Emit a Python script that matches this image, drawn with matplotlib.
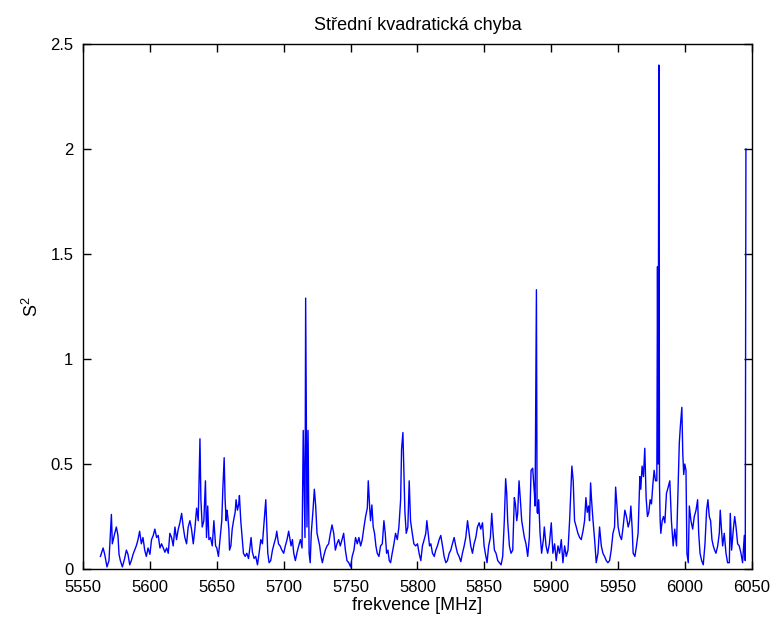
import matplotlib
matplotlib.use("Agg")
import matplotlib.pyplot as plt

freq = [
    5563.0, 5565.0, 5566.2, 5567.9, 5569.4, 5571.2, 5571.9, 5573.7, 5574.9, 5576.1,
    5576.9, 5577.9, 5579.4, 5581.1, 5582.4, 5583.6, 5584.9, 5586.1, 5587.4, 5589.8,
    5591.1, 5592.3, 5593.6, 5594.8, 5596.1, 5597.3, 5598.6,
    5600.0, 5601.2, 5602.5, 5603.7, 5605.0, 5606.2, 5607.5, 5608.7, 5610.0, 5611.2,
    5612.5, 5613.7, 5614.9, 5616.2, 5617.4, 5618.7, 5619.9, 5621.2, 5622.4, 5623.7,
    5624.9, 5626.1, 5627.4, 5628.6, 5629.9, 5631.1, 5632.4, 5633.6, 5634.9, 5636.1,
    5637.4, 5638.1, 5639.1, 5640.3, 5641.5, 5642.3, 5643.2, 5644.1, 5645.3, 5646.6,
    5647.8, 5649.1,
    5650.0, 5651.2, 5652.5, 5653.7, 5654.5, 5655.5, 5656.2, 5657.0, 5657.5, 5658.2,
    5659.0, 5659.5, 5660.5, 5661.5, 5662.5, 5663.7, 5664.4, 5665.4, 5666.4, 5666.9,
    5667.9, 5668.9, 5669.9, 5671.2, 5672.4, 5673.7, 5674.9, 5675.6, 5676.6, 5677.9,
    5679.1, 5680.4, 5681.6, 5682.9, 5684.1, 5685.4, 5686.6, 5687.4, 5688.1, 5689.1,
    5690.3, 5691.6, 5692.8, 5694.1, 5694.8, 5696.1, 5697.3, 5698.6,
    5700.0, 5701.2, 5702.5, 5703.7, 5704.5, 5705.5, 5706.5, 5707.5, 5708.7, 5710.0,
    5711.2, 5712.5, 5713.7, 5714.6, 5715.9, 5716.4, 5716.9, 5717.4, 5718.2, 5719.0,
    5719.8, 5720.6, 5721.9, 5722.9, 5723.9, 5724.9, 5725.9, 5726.9, 5727.9, 5728.9,
    5729.9, 5731.1, 5732.4, 5733.6, 5734.9, 5736.1, 5737.4, 5738.6, 5739.8, 5741.1,
    5742.3, 5743.6, 5744.8, 5746.1, 5747.3, 5748.6,
    5750.0, 5751.2, 5752.5, 5753.7, 5755.0, 5756.2, 5757.5, 5758.7, 5760.0, 5761.2,
    5762.5, 5763.2, 5764.2, 5764.9, 5765.9, 5766.9, 5767.9, 5768.9, 5769.9, 5771.2,
    5772.4, 5773.7, 5774.9, 5775.9, 5776.9, 5777.9, 5778.9, 5779.9, 5781.1, 5782.4,
    5783.6, 5784.9, 5786.1, 5787.4, 5788.1, 5789.1, 5789.8, 5790.6, 5791.6, 5792.8,
    5793.8, 5794.8, 5796.1, 5797.3, 5798.6,
    5800.0, 5801.2, 5802.5, 5803.7, 5805.0, 5806.2, 5807.0, 5808.0, 5809.0, 5810.0,
    5811.2, 5812.5, 5813.7, 5814.9, 5816.2, 5817.4, 5818.7, 5819.9, 5821.2, 5822.4,
    5823.7, 5824.9, 5826.1, 5827.4, 5828.6, 5829.9, 5831.1, 5832.4, 5833.6, 5834.9,
    5836.1, 5837.4, 5838.6, 5839.8, 5841.1, 5842.3, 5843.6, 5844.8, 5846.1, 5847.3,
    5848.6, 5849.8,
    5850.7, 5852.0, 5853.2, 5854.5, 5855.5, 5856.5, 5857.5, 5858.7, 5860.0, 5861.2,
    5862.5, 5863.7, 5864.9, 5865.9, 5866.7, 5867.4, 5868.7, 5869.9, 5871.2, 5872.4,
    5873.2, 5874.2, 5874.9, 5875.9, 5876.9, 5877.9, 5878.9, 5879.9, 5881.1, 5882.4,
    5883.6, 5884.9, 5886.1, 5887.4, 5887.9, 5888.4, 5888.9, 5889.4, 5889.9, 5890.6,
    5891.6, 5892.8, 5894.1, 5894.8, 5896.1, 5897.3, 5898.6,
    5900.0, 5901.2, 5902.5, 5903.7, 5905.0, 5906.2, 5907.5, 5908.7, 5910.0, 5911.2,
    5912.5, 5913.7, 5915.4, 5916.4, 5917.4, 5918.7, 5919.9, 5921.2, 5922.4, 5923.7,
    5924.9, 5925.9, 5926.9, 5927.9, 5928.6, 5929.4, 5930.1, 5931.1, 5932.4, 5933.6,
    5934.9, 5936.1, 5937.4, 5938.6, 5939.8, 5941.1, 5942.3, 5943.6, 5944.8, 5946.1,
    5947.3, 5948.1, 5949.1,
    5950.0, 5951.2, 5952.5, 5953.7, 5955.0, 5956.2, 5957.5, 5958.7, 5959.5, 5960.5,
    5961.2, 5962.5, 5963.7, 5964.9, 5966.2, 5966.9, 5967.9, 5968.9, 5969.9, 5970.9,
    5971.9, 5972.9, 5973.9, 5974.9, 5975.9, 5976.9, 5977.9, 5978.9, 5979.4, 5979.9,
    5980.4, 5980.9, 5981.4, 5981.9, 5982.9, 5983.9, 5984.9, 5986.1, 5987.4, 5988.6,
    5989.8, 5991.1, 5992.3, 5993.6, 5994.8, 5995.7, 5996.5, 5997.6, 5998.3, 5999.0,
    5999.8,
    6000.7, 6001.4, 6002.4, 6003.2, 6004.4, 6005.7, 6006.9, 6008.2, 6009.4, 6010.2,
    6011.2, 6012.4, 6013.6, 6014.9, 6016.1, 6017.1, 6018.1, 6019.1, 6020.1, 6021.1,
    6022.1, 6023.1, 6024.4, 6025.6, 6026.3, 6027.1, 6028.1, 6029.3, 6030.6, 6031.8,
    6033.1, 6033.8, 6034.8, 6036.1, 6037.1, 6038.1, 6039.3, 6040.5, 6041.8, 6043.0,
    6044.3, 6045.0, 6045.5,
]

s2 = [
    0.06, 0.10, 0.07, 0.01, 0.04, 0.26, 0.12, 0.17, 0.20, 0.16,
    0.07, 0.04, 0.01, 0.05, 0.09, 0.07, 0.02, 0.04, 0.07, 0.11,
    0.14, 0.18, 0.12, 0.15, 0.09, 0.06, 0.10,
    0.07, 0.14, 0.16, 0.19, 0.15, 0.16, 0.10, 0.12, 0.10, 0.08,
    0.10, 0.075, 0.17, 0.15, 0.11, 0.20, 0.14, 0.19, 0.22, 0.265,
    0.20, 0.15, 0.12, 0.20, 0.23, 0.19, 0.12, 0.19, 0.29, 0.23,
    0.62, 0.33, 0.20, 0.23, 0.42, 0.15, 0.30, 0.14, 0.15, 0.11,
    0.23, 0.11,
    0.10, 0.06, 0.15, 0.23, 0.38, 0.53, 0.33, 0.23, 0.28, 0.25,
    0.19, 0.09, 0.11, 0.19, 0.23, 0.27, 0.33, 0.28, 0.31, 0.35,
    0.23, 0.15, 0.075, 0.06, 0.075, 0.05, 0.11, 0.15, 0.08, 0.05,
    0.06, 0.02, 0.075, 0.14, 0.12, 0.23, 0.33, 0.19, 0.075, 0.03,
    0.04, 0.09, 0.12, 0.15, 0.18, 0.12, 0.11, 0.09,
    0.075, 0.11, 0.14, 0.18, 0.15, 0.11, 0.14, 0.075, 0.04, 0.08,
    0.11, 0.14, 0.10, 0.66, 0.15, 1.29, 0.71, 0.20, 0.66, 0.075,
    0.03, 0.17, 0.28, 0.38, 0.30, 0.17, 0.14, 0.11, 0.06, 0.03,
    0.06, 0.09, 0.11, 0.12, 0.17, 0.21, 0.17, 0.09, 0.12, 0.14,
    0.11, 0.14, 0.17, 0.09, 0.04, 0.03,
    0.01, 0.06, 0.09, 0.15, 0.12, 0.15, 0.11, 0.14, 0.20, 0.25,
    0.29, 0.42, 0.30, 0.23, 0.305, 0.20, 0.17, 0.11, 0.075, 0.06,
    0.11, 0.12, 0.23, 0.17, 0.075, 0.09, 0.04, 0.03, 0.075, 0.12,
    0.17, 0.14, 0.20, 0.33, 0.57, 0.65, 0.47, 0.27, 0.17, 0.20,
    0.42, 0.23, 0.17, 0.12, 0.11,
    0.12, 0.075, 0.04, 0.11, 0.14, 0.17, 0.23, 0.17, 0.11, 0.12,
    0.075, 0.06, 0.09, 0.11, 0.14, 0.16, 0.11, 0.06, 0.03, 0.04,
    0.075, 0.09, 0.12, 0.15, 0.11, 0.075, 0.06, 0.035, 0.075, 0.11,
    0.15, 0.23, 0.17, 0.11, 0.075, 0.12, 0.15, 0.20, 0.22, 0.19,
    0.22, 0.11,
    0.075, 0.03, 0.11, 0.15, 0.265, 0.17, 0.09, 0.075, 0.04, 0.03,
    0.02, 0.06, 0.23, 0.43, 0.36, 0.23, 0.11, 0.075, 0.09, 0.34,
    0.31, 0.23, 0.265, 0.42, 0.33, 0.23, 0.19, 0.15, 0.12, 0.06,
    0.15, 0.47, 0.48, 0.36, 0.30, 0.80, 1.33, 0.27, 0.265, 0.33,
    0.17, 0.075, 0.14, 0.20, 0.11, 0.075, 0.12,
    0.22, 0.075, 0.12, 0.04, 0.11, 0.075, 0.14, 0.03, 0.11, 0.06,
    0.09, 0.23, 0.49, 0.42, 0.23, 0.20, 0.17, 0.15, 0.14, 0.18,
    0.23, 0.34, 0.27, 0.30, 0.23, 0.41, 0.33, 0.24, 0.14, 0.03,
    0.075, 0.20, 0.11, 0.075, 0.06, 0.04, 0.03, 0.04, 0.09, 0.17,
    0.20, 0.39, 0.30,
    0.20, 0.16, 0.14, 0.20, 0.28, 0.25, 0.20, 0.23, 0.30, 0.19,
    0.075, 0.06, 0.11, 0.17, 0.44, 0.38, 0.49, 0.44, 0.575, 0.34,
    0.25, 0.27, 0.33, 0.31, 0.40, 0.47, 0.42, 0.42, 1.44, 0.50,
    2.40, 0.40, 0.23, 0.17, 0.23, 0.25, 0.22, 0.36, 0.39, 0.42,
    0.23, 0.11, 0.19, 0.11, 0.39, 0.60, 0.68, 0.77, 0.55, 0.45,
    0.50,
    0.47, 0.075, 0.03, 0.30, 0.23, 0.19, 0.25, 0.28, 0.33, 0.17,
    0.075, 0.04, 0.02, 0.12, 0.28, 0.33, 0.25, 0.23, 0.14, 0.11,
    0.09, 0.075, 0.11, 0.17, 0.28, 0.20, 0.11, 0.17, 0.075, 0.03,
    0.03, 0.265, 0.09, 0.19, 0.25, 0.20, 0.12, 0.11, 0.075, 0.03,
    0.16, 0.04, 2.00,
]

x_ticks = [5550, 5600, 5650, 5700, 5750, 5800, 5850, 5900, 5950, 6000, 6050]
y_ticks = [0, 0.5, 1, 1.5, 2, 2.5]
y_tick_labels = ["0", "0.5", "1", "1.5", "2", "2.5"]

plt.rcParams['font.family'] = ['Liberation Sans', 'DejaVu Sans']
plt.rcParams['mathtext.default'] = 'regular'

fig = plt.figure(figsize=(7.76, 6.22), dpi=100)
ax = fig.add_axes([0.107, 0.0852, 0.862, 0.844])
ax.plot(freq, s2, color=(0, 0, 1), linewidth=1.0)

ax.set_xlim(5550, 6050)
ax.set_ylim(0, 2.5)
ax.set_xticks(x_ticks)
ax.set_yticks(y_ticks)
ax.set_yticklabels(y_tick_labels)
ax.tick_params(direction='in', top=True, right=True, length=6, width=1,
               labelsize=12, colors='black')
ax.tick_params(axis='x', pad=8)
ax.tick_params(axis='y', pad=7)
for sp in ax.spines.values():
    sp.set_linewidth(1.0)
    sp.set_color('black')

ax.set_title("Střední kvadratická chyba", fontsize=13, pad=10)
ax.set_xlabel("frekvence [MHz]", fontsize=13, labelpad=1)
ax.set_ylabel("S$^2$", fontsize=13, labelpad=6)

fig.savefig("out.png", dpi=100)
